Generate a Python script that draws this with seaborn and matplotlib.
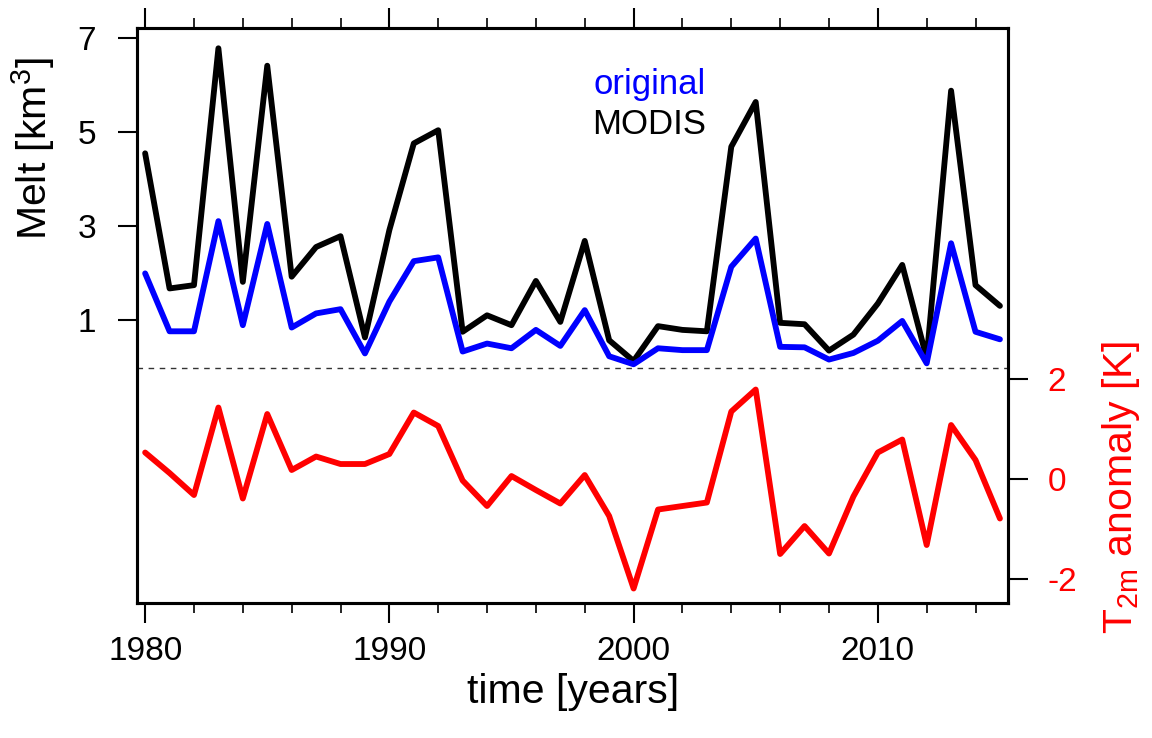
import numpy as np
import pandas as pd
import matplotlib
matplotlib.use("Agg")
import matplotlib.pyplot as plt
import seaborn as sns
from matplotlib.ticker import MultipleLocator

years = list(range(1980, 2016))
melt_modis = [4.55, 1.68, 1.75, 6.78, 1.82, 6.41, 1.93, 2.56, 2.79, 0.64,
              2.92, 4.76, 5.04, 0.76, 1.11, 0.90, 1.84, 0.97, 2.69, 0.58,
              0.14, 0.88, 0.80, 0.77, 4.69, 5.64, 0.95, 0.92, 0.36, 0.70,
              1.36, 2.18, 0.20, 5.88, 1.75, 1.31]
melt_original = [2.00, 0.77, 0.77, 3.11, 0.90, 3.05, 0.85, 1.15, 1.24, 0.30,
                 1.40, 2.26, 2.34, 0.34, 0.51, 0.41, 0.80, 0.46, 1.22, 0.24,
                 0.07, 0.41, 0.37, 0.37, 2.14, 2.74, 0.44, 0.43, 0.17, 0.31,
                 0.57, 0.99, 0.09, 2.64, 0.76, 0.60]
t2m_anomaly = [0.53, 0.12, -0.32, 1.43, -0.39, 1.30, 0.18, 0.45, 0.30, 0.30,
               0.50, 1.33, 1.06, -0.03, -0.54, 0.06, -0.22, -0.49, 0.08, -0.74,
               -2.19, -0.61, -0.54, -0.47, 1.35, 1.79, -1.50, -0.94, -1.49, -0.35,
               0.53, 0.79, -1.32, 1.08, 0.38, -0.79]
melt_ticks = [1, 3, 5, 7]
t2m_ticks = [2, 0, -2]
x_ticks = [1980, 1990, 2000, 2010]

df = pd.DataFrame({"year": years, "MODIS": melt_modis,
                   "original": melt_original, "T2m": t2m_anomaly})

sns.set_style("white")
plt.rcParams["font.family"] = ["Liberation Sans", "DejaVu Sans"]
plt.rcParams["mathtext.fontset"] = "custom"
plt.rcParams["mathtext.rm"] = "Liberation Sans"
plt.rcParams["mathtext.it"] = "Liberation Sans"
plt.rcParams["text.color"] = "black"
plt.rcParams["axes.labelcolor"] = "black"
plt.rcParams["xtick.color"] = "black"
plt.rcParams["ytick.color"] = "black"

fig = plt.figure(figsize=(11.52, 7.38), dpi=100)
ax = fig.add_axes([0.1192, 0.1829, 0.7558, 0.7791])
ax2 = ax.twinx()

sns.lineplot(data=df, x="year", y="MODIS", ax=ax, color="black", lw=4.2)
sns.lineplot(data=df, x="year", y="original", ax=ax, color="#0000ff", lw=4.2)
sns.lineplot(data=df, x="year", y="T2m", ax=ax2, color="#ff0000", lw=4.2)
ax.axhline(0, color="#333333", lw=1.0, ls=(0, (4, 4)))

ax.set_xlim(1979.68, 2015.33)
ax.set_ylim(-5.0, 7.21)
ax2.set_ylim(-2.48, 9.02)

ax.set_xticks(x_ticks)
ax.set_xticklabels([str(v) for v in x_ticks])
ax.xaxis.set_minor_locator(MultipleLocator(2))
ax.set_yticks(melt_ticks)
ax.set_yticklabels([str(v) for v in melt_ticks])
ax2.set_yticks(t2m_ticks)
ax2.set_yticklabels([str(v) for v in t2m_ticks])

ax.tick_params(axis="x", which="major", direction="out", length=14.4, width=1.5,
               top=True, bottom=True, labelsize=24, pad=9, labelcolor="black")
ax.tick_params(axis="x", which="minor", direction="out", length=7.2, width=1.2,
               top=True, bottom=True)
ax.tick_params(axis="y", which="major", direction="out", length=13.7, width=1.5,
               labelsize=24, pad=16, left=True, labelcolor="black")
ax2.tick_params(axis="y", which="major", direction="out", length=14.4, width=1.5,
                labelsize=24, pad=14, right=True, labelcolor="#ff0000")

for a in (ax, ax2):
    for s in a.spines.values():
        s.set_linewidth(2.2)
        s.set_color("black")

ax.set_xlabel("time [years]", fontsize=29.5, labelpad=5, color="black")
ax.set_ylabel("Melt [km$^3$]", fontsize=29.5, color="black")
ax.yaxis.set_label_coords(-0.092, 0.79)
ax2.set_ylabel("T$_{2m}$ anomaly [K]", fontsize=29.5, color="#ff0000", rotation=90)
ax2.yaxis.set_label_coords(1.1057, 0.202)

ax.text(0.653, 0.885, "original", transform=ax.transAxes, fontsize=25,
        color="#0000ff", ha="right", va="baseline")
ax.text(0.653, 0.8155, "MODIS", transform=ax.transAxes, fontsize=25,
        color="black", ha="right", va="baseline")

fig.savefig("out.png", dpi=100)
